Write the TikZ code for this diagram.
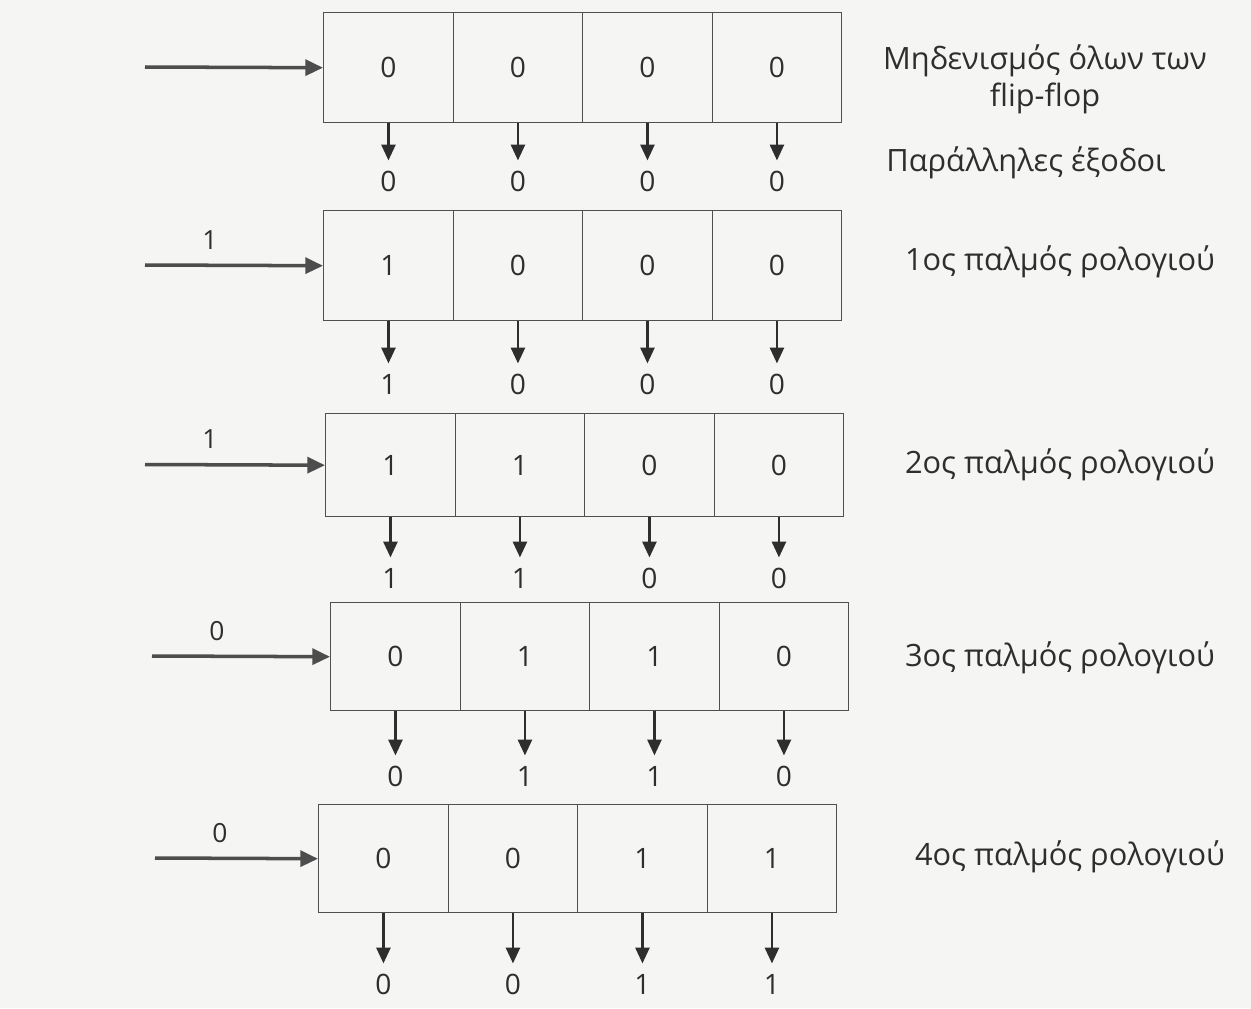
\documentclass[tikz,border=0pt]{standalone}
\usepackage{fontspec}
\setmainfont{Open Sans}
\usetikzlibrary{arrows.meta}
\definecolor{bg}{HTML}{F5F5F3}
\definecolor{ink}{HTML}{2E2E2E}
\definecolor{boxline}{HTML}{505050}
\tikzset{
  cell/.style={draw=boxline, line width=0.8pt, minimum width=129.5*0.02cm, minimum height=#1, inner sep=0pt, anchor=north west, font=\fontsize{16}{19}\selectfont, text=ink},
  inarrow/.style={draw=ink!85, line width=2pt, -{Triangle[length=10pt,width=9pt]}},
  outarrow/.style={draw=ink, line width=1.4pt, -{Triangle[length=9pt,width=8pt]}},
  outlab/.style={font=\fontsize{16}{19}\selectfont, text=ink, inner sep=0pt},
  inlab/.style={font=\fontsize{15}{18}\selectfont, text=ink, inner sep=0pt},
  side/.style={font=\fontsize{17.5}{21}\selectfont, text=ink, inner sep=0pt, align=center},
}
\begin{document}
\begin{tikzpicture}[x=0.02cm,y=-0.02cm]
\fill[bg] (0,0) rectangle (1251,1008);
\useasboundingbox (0,0) rectangle (1251,1008);
% rows: index / x0 / ytop / ybot / arrow start / input label / outputs label y / values
\foreach \r/\xo/\yt/\yb/\xs/\il/\ly/\va/\vb/\vc/\vd in {
  1/323/12/122/145//180/0/0/0/0,
  2/323/210/320/145/1/383/1/0/0/0,
  3/325/413/516/145/1/577/1/1/0/0,
  4/330/602/710/152/0/775/0/1/1/0,
  5/318/804/912/155/0/983/0/0/1/1}{
  \pgfmathsetmacro{\h}{(\yb-\yt)*0.02}
  \foreach \c/\v in {0/\va,1/\vb,2/\vc,3/\vd}{
    \node[cell=\h cm] (c\r\c) at (\xo+\c*129.5,\yt) {\v};
    \coordinate (t\r\c) at ([yshift=-(\ly-\yb-21)*0.02cm]c\r\c.south);
    \draw[outarrow] (c\r\c.south) -- (t\r\c);
    \node[outlab] (o\r\c) at ([yshift=-(\ly-\yb)*0.02cm]c\r\c.south) {\v};
  }
  \coordinate (s\r) at (\xs,{(\yt+\yb)/2});
  \draw[inarrow] (s\r) -- (c\r0.west);
  \node[inlab] (i\r) at ([xshift=65*0.02cm, yshift=25*0.02cm]s\r) {\il};
}
\node[side] (n1) at (1045,79) {Μηδενισμός όλων των\\flip-flop};
\node[side, anchor=west] (n2) at (886,163) {Παράλληλες έξοδοι};
\node[side] (n3) at (1060,262) {1ος παλμός ρολογιού};
\node[side] (n4) at (1060,465) {2ος παλμός ρολογιού};
\node[side] (n5) at (1060,658) {3ος παλμός ρολογιού};
\node[side] (n6) at (1070,857) {4ος παλμός ρολογιού};
\end{tikzpicture}
\end{document}
